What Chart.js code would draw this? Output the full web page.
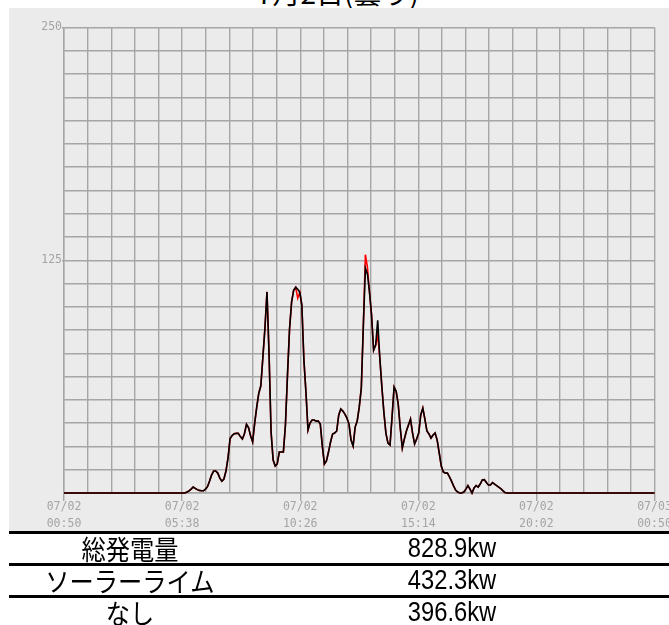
<!DOCTYPE html>
<html lang="ja">
<head>
<meta charset="utf-8">
<title>7月2日(曇り)</title>
<script src="https://cdn.jsdelivr.net/npm/chart.js@4.4.1/dist/chart.umd.min.js"></script>
<style>
  html, body {
    margin: 0;
    padding: 0;
    width: 669px;
    height: 625px;
    overflow: hidden;
    background: #fff;
    position: relative;
  }
  .title {
    position: absolute;
    left: 0;
    width: 676px;
    top: -22px;
    text-align: center;
    font-family: "Noto Sans CJK JP", sans-serif;
    font-size: 28px;
    line-height: 28px;
    color: #000;
  }
  .panel {
    position: absolute;
    left: 9px;
    top: 8px;
    width: 700px;
    height: 523px;
    background: #ebebeb;
  }
  .summary {
    position: absolute;
    left: 9px;
    top: 531px;
    width: 700px;
  }
  .row {
    position: relative;
    height: 29px;
    border-top: 3px solid #000;
  }
  .row span {
    position: absolute;
    top: 0;
    line-height: 29px;
    text-align: center;
    color: #000;
  }
  .row .name {
    left: 0;
    width: 242px;
    font-family: "Noto Sans CJK JP", sans-serif;
    font-size: 25px;
    transform: scale(0.97, 1.08);
  }
  .row .val {
    left: 343px;
    width: 200px;
    font-family: "Liberation Sans", sans-serif;
    font-size: 27px;
    transform: scale(0.88, 1);
  }
</style>
</head>
<body>
<div class="title">7月2日(曇り)</div>
<div class="panel"><canvas id="powerChart" width="700" height="523"></canvas></div>
<div class="summary" id="summary"></div>

<script>
// 00:50 からの経過分で持つ。サンプルは5分毎
const sampleStart = 295;
const sampleStep = 5;
const dayLength = 1440;

// 黒線(なし)
const nashi = [
  0, 0.5, 1.1, 2.1, 3.2, 2.5, 1.8, 1.4, 1.2, 1.2,
  2.1, 3.4, 6.4, 9.7, 11.8, 11.8, 10.7, 8.0, 6.3, 7.5,
  11.8, 18.8, 29.3, 30.9, 31.8, 32.0, 32.0, 30.3, 29.0, 31.8,
  36.9, 35.1, 30.8, 27.5, 37.5, 46.1, 53.6, 57.6, 73.0, 88.5,
  108.0, 75.0, 32.7, 17.7, 14.5, 15.6, 22.0, 22.0, 22.0, 36.5,
  63.3, 88.0, 102.5, 108.9, 110.5, 109.4, 107.8, 100.9, 71.4, 54.2,
  33.8, 37.6, 39.2, 39.2, 38.6, 38.6, 37.0, 25.2, 15.6, 17.2,
  22.0, 27.4, 31.7, 32.2, 33.3, 41.9, 45.1, 44.0, 42.4, 40.2,
  37.0, 28.4, 25.2, 35.4, 38.6, 46.1, 56.3, 90.1, 120.7, 117.5,
  107.8, 95.5, 76.7, 79.4, 92.8, 73.0, 57.4, 43.5, 32.2, 26.8,
  25.8, 40.8, 56.9, 54.7, 47.7, 34.9, 24.1, 29.0, 33.3, 36.5,
  39.7, 32.2, 26.3, 29.0, 32.2, 41.9, 45.6, 39.7, 33.3, 31.7,
  29.5, 31.1, 32.2, 28.4, 21.5, 14.5, 11.3, 10.7, 10.7, 8.6,
  6.4, 3.8, 1.6, 0.5, 0, 0, 0.5, 2.1, 4.0, 2.1,
  0, 2.7, 4.0, 3.2, 4.8, 7.0, 7.2, 5.6, 4.3, 4.3,
  5.6, 4.8, 4.0, 3.2, 2.4, 1.3, 0.3, 0
];

// 赤線(ソーラーライム)
const solarLime = [
  0, 0.5, 1.1, 2.1, 3.2, 2.5, 1.8, 1.4, 1.2, 1.2,
  2.1, 3.4, 6.4, 9.7, 11.8, 11.8, 10.7, 8.0, 6.3, 7.5,
  11.8, 18.8, 29.3, 30.9, 31.8, 32.0, 32.0, 30.3, 29.0, 31.8,
  36.9, 35.1, 30.8, 27.5, 37.5, 46.1, 53.6, 57.6, 73.0, 88.5,
  108.0, 75.0, 32.7, 17.7, 14.5, 15.6, 22.0, 22.0, 22.0, 36.5,
  63.3, 88.0, 102.5, 108.9, 110.5, 104.6, 107.8, 100.9, 71.4, 54.2,
  33.8, 37.6, 39.2, 39.2, 38.6, 38.6, 37.0, 25.2, 15.6, 17.2,
  22.0, 27.4, 31.7, 32.2, 33.3, 41.9, 45.1, 44.0, 42.4, 40.2,
  37.0, 28.4, 25.2, 35.4, 38.6, 46.1, 56.3, 90.1, 128.0, 121.0,
  107.8, 95.5, 76.7, 79.4, 85.0, 73.0, 57.4, 43.5, 32.2, 26.8,
  25.8, 40.8, 56.9, 54.7, 47.7, 34.9, 24.1, 29.0, 33.3, 36.5,
  39.7, 32.2, 26.3, 29.0, 32.2, 41.9, 45.6, 39.7, 33.3, 31.7,
  29.5, 31.1, 32.2, 28.4, 21.5, 14.5, 11.3, 10.7, 10.7, 8.6,
  6.4, 3.8, 1.6, 0.5, 0, 0, 0.5, 2.1, 4.0, 2.1,
  0, 2.7, 4.0, 3.2, 4.8, 7.0, 7.2, 5.6, 4.3, 4.3,
  5.6, 4.8, 4.0, 3.2, 2.4, 1.3, 0.3, 0
];

// 目盛りラベル
const xDates = ["07/02", "07/02", "07/02", "07/02", "07/02", "07/03"];
const xTimes = ["00:50", "05:38", "10:26", "15:14", "20:02", "00:50"];
const yLabels = [125, 250];

// 下の表
const summaryNames = ["総発電量", "ソーラーライム", "なし"];
const summaryValues = ["828.9kw", "432.3kw", "396.6kw"];

// 夜間の0も含めて点に変換
function toPoints(values) {
  const pts = [{ x: 0, y: 0 }];
  values.forEach((v, i) => pts.push({ x: sampleStart + i * sampleStep, y: v }));
  pts.push({ x: dayLength, y: 0 });
  return pts;
}

const gridColor = "#a6a6a6";
const labelColor = "#a4a4a4";
const monoFont = { family: "DejaVu Sans Mono", size: 11.5 };

const ctx = document.getElementById("powerChart").getContext("2d");
const chart = new Chart(ctx, {
  type: "line",
  data: {
    datasets: [
      {
        label: "ソーラーライム",
        data: toPoints(solarLime),
        borderColor: "#ff0000",
        borderWidth: 1.6,
        pointRadius: 0,
        tension: 0,
        clip: false,
        order: 2,
      },
      {
        label: "なし",
        data: toPoints(nashi),
        borderColor: "#000000",
        borderWidth: 1.6,
        pointRadius: 0,
        tension: 0,
        clip: false,
        order: 1,
      },
    ],
  },
  options: {
    responsive: false,
    animation: false,
    devicePixelRatio: 1,
    layout: {
      padding: { left: 0, right: 54.5, top: 19.5, bottom: 0 },
    },
    plugins: {
      legend: { display: false },
      tooltip: { enabled: false },
    },
    scales: {
      x: {
        type: "linear",
        min: 0,
        max: dayLength,
        afterBuildTicks: (scale) => {
          scale.ticks = Array.from({ length: 26 }, (_, i) => ({ value: (i * dayLength) / 25 }));
        },
        afterFit: (scale) => {
          scale.height = 38;
        },
        grid: {
          color: gridColor,
          lineWidth: 1.4,
          tickLength: 8,
          tickColor: (c) => (c.index % 5 === 0 ? gridColor : "rgba(0,0,0,0)"),
        },
        border: { display: true, color: gridColor, width: 1.4 },
        ticks: {
          autoSkip: false,
          maxRotation: 0,
          padding: -2.5,
          color: labelColor,
          font: { family: monoFont.family, size: monoFont.size, lineHeight: 17 / monoFont.size },
          callback: (value, index) =>
            index % 5 === 0 ? [xDates[index / 5], xTimes[index / 5]] : "",
        },
      },
      y: {
        min: 0,
        max: 250,
        afterBuildTicks: (scale) => {
          scale.ticks = Array.from({ length: 21 }, (_, i) => ({ value: i * 12.5 }));
        },
        afterFit: (scale) => {
          scale.width = 55;
        },
        grid: {
          color: gridColor,
          lineWidth: 1.4,
          tickLength: 2,
          tickColor: (c) => (c.tick && yLabels.includes(c.tick.value) ? gridColor : "rgba(0,0,0,0)"),
        },
        border: { display: true, color: gridColor, width: 1.4 },
        ticks: {
          autoSkip: false,
          padding: 0,
          color: labelColor,
          font: monoFont,
          callback: (value) => (yLabels.includes(value) ? String(value) : ""),
        },
      },
    },
  },
});

// 表の組み立て
const summary = document.getElementById("summary");
summaryNames.forEach((name, i) => {
  const row = document.createElement("div");
  row.className = "row";
  row.innerHTML = '<span class="name">' + name + '</span><span class="val">' + summaryValues[i] + "</span>";
  summary.appendChild(row);
});
</script>
</body>
</html>
